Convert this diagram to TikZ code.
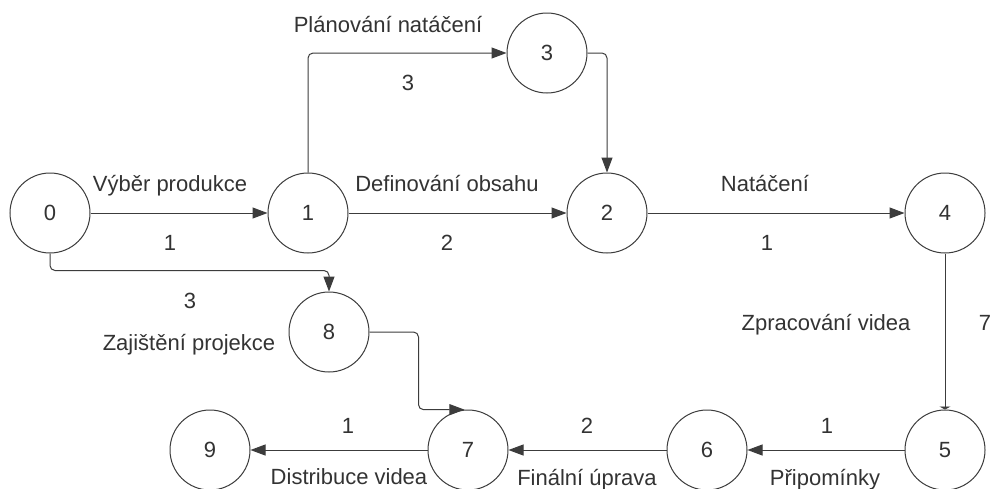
\documentclass[tikz,border=0pt]{standalone}
\usepackage{fontspec}
\setmainfont{Liberation Sans}
\usetikzlibrary{arrows.meta,calc}
\definecolor{ink}{HTML}{333333}
\definecolor{wire}{HTML}{3C3C3C}
\begin{document}
\begin{tikzpicture}[x=1pt,y=-1pt,
  ev/.style={circle,draw=wire,line width=1pt,minimum size=80pt,inner sep=0pt,
    font=\fontsize{22}{26}\selectfont,text=ink},
  act/.style={draw=wire,line width=1pt,rounded corners=5pt,
    -{Triangle[length=15pt,width=11pt]}},
  lbl/.style={font=\fontsize{22}{26}\selectfont,text=ink,inner sep=0pt,anchor=base}]
\useasboundingbox[fill=white] (0,0) rectangle (992,488);

% events
\node[ev] (n0) at (50,213) {0};
\node[ev] (n1) at (308,213) {1};
\node[ev] (n2) at (607,213) {2};
\node[ev] (n3) at (547,53) {3};
\node[ev] (n4) at (945,213) {4};
\node[ev] (n8) at (329,332) {8};
\node[ev] (n9) at (210,450) {9};
\node[ev] (n7) at (468,450) {7};
\node[ev] (n6) at (707,450) {6};
\node[ev] (n5) at (945,450) {5};

% activities
\draw[act] (n0) -- (n1);
\draw[act] (n1) -- (n2);
\draw[act] (n2) -- (n4);
\draw[act] (n1.north) |- (n3.west);
\draw[act] (n3.east) -| (n2.north);
\draw[act] (n0.south) -- ($(n0.south)+(0,17)$) -| (n8.north);
\draw[act] (n8.east) -- ($(n8.east)+(49,0)$) |- (n7.95);
\draw[act,-{Triangle[length=3pt,width=11pt]}] (n4) -- (n5);
\draw[act] (n5) -- (n6);
\draw[act] (n6) -- (n7);
\draw[act] (n7) -- (n9);

% activity names and durations
\node[lbl] (t01) at (170,191) {Výběr produkce};
\node[lbl] (d01) at (170,250) {1};
\node[lbl] (t12) at (447,191) {Definování obsahu};
\node[lbl] (d12) at (447,250) {2};
\node[lbl] (t24) at (765,191) {Natáčení};
\node[lbl] (d24) at (767,250) {1};
\node[lbl] (t13) at (388,32) {Plánování natáčení};
\node[lbl] (d13) at (408,90) {3};
\node[lbl] (d08) at (190,308) {3};
\node[lbl] (t08) at (189,350) {Zajištění projekce};
\node[lbl] (t45) at (826,330) {Zpracování videa};
\node[lbl] (d45) at (985,330) {7};
\node[lbl] (d56) at (827,433) {1};
\node[lbl] (t56) at (825,485) {Připomínky};
\node[lbl] (d67) at (587,433) {2};
\node[lbl] (t67) at (587,485) {Finální úprava};
\node[lbl] (d79) at (348,433) {1};
\node[lbl] (t79) at (349,484) {Distribuce videa};
\end{tikzpicture}
\end{document}
